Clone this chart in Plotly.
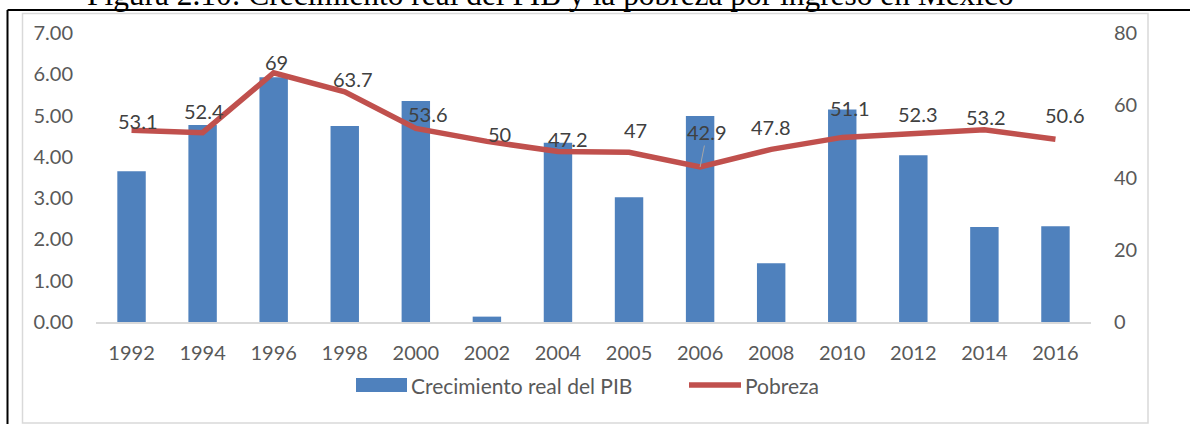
import plotly.graph_objects as go

# ---- data ----
years = ["1992", "1994", "1996", "1998", "2000", "2002", "2004", "2005",
         "2006", "2008", "2010", "2012", "2014", "2016"]
pib = [3.65, 4.77, 5.93, 4.75, 5.35, 0.13, 4.34, 3.02, 4.99, 1.42, 5.15, 4.04, 2.30, 2.32]
pobreza = [53.1, 52.4, 69, 63.7, 53.6, 50, 47.2, 47, 42.9, 47.8, 51.1, 52.3, 53.2, 50.6]
pobreza_labels = ["53.1", "52.4", "69", "63.7", "53.6", "50", "47.2", "47",
                  "42.9", "47.8", "51.1", "52.3", "53.2", "50.6"]
left_ticks = [0, 1, 2, 3, 4, 5, 6, 7]
right_ticks = [0, 20, 40, 60, 80]

title_text = "Figura 2.10: Crecimiento real del PIB y la pobreza por ingreso en México"
legend_bar = "Crecimiento real del PIB"
legend_line = "Pobreza"

# label placement offsets (pixels) - styling only
label_dx = [6.5, 1, 3, 8, 12.6, 13, 10, 6, 7, 0, 7.5, 5, 2, 10]
label_dy = [-9, -21.6, -10.4, -12.5, -14.3, -7, -12, -22, -35, -22, -29, -19, -12.4, -24]
leader = [False] * 8 + [True] + [False] * 5

BLUE = "#4F81BD"
RED = "#C0504D"
TICK = "#595959"
LABEL = "#404040"
FONT = "Lato"

W, H = 1190, 424
ML, MR, MT, MB = 96, 99, 33, 102
PW, PH = W - ML - MR, H - MT - MB


def px(x):
    return (x - ML) / PW


def py(y):
    return (H - MB - y) / PH


fig = go.Figure()
fig.add_trace(go.Bar(x=years, y=pib, name=legend_bar, marker_color=BLUE,
                     marker_line_width=0, yaxis="y", showlegend=False))
fig.add_trace(go.Scatter(x=years, y=pobreza, name=legend_line, mode="lines",
                         line=dict(color=RED, width=5.5), yaxis="y2",
                         showlegend=False))

annotations = []
for i, (v, t, dx, dy, ld) in enumerate(zip(pobreza, pobreza_labels, label_dx, label_dy, leader)):
    annotations.append(dict(
        x=i, y=v, xref="x", yref="y2", text=t, showarrow=True,
        ax=dx, ay=dy, axref="pixel", ayref="pixel",
        arrowhead=0, arrowwidth=1, standoff=0, startstandoff=0,
        arrowcolor="#A6A6A6" if ld else "rgba(0,0,0,0)",
        font=dict(family=FONT, size=20, color=LABEL),
        xanchor="center", yanchor="middle",
    ))

# title (partly cut at the top, as in the source page)
annotations.append(dict(
    text=title_text, xref="paper", yref="paper",
    x=px(550), y=py(14.5), xanchor="center", yanchor="bottom",
    showarrow=False, font=dict(family="Liberation Serif, Times New Roman, serif",
                               size=31.4, color="black")))

# custom legend text
annotations.append(dict(text=legend_bar, xref="paper", yref="paper",
                        x=px(409), y=py(385), xanchor="left", yanchor="middle",
                        showarrow=False, font=dict(family=FONT, size=21, color=TICK)))
annotations.append(dict(text=legend_line, xref="paper", yref="paper",
                        x=px(743), y=py(385), xanchor="left", yanchor="middle",
                        showarrow=False, font=dict(family=FONT, size=21, color=TICK)))

shapes = [
    # chart area border (light gray)
    dict(type="rect", xref="paper", yref="paper",
         x0=px(22.5), x1=px(1148), y0=py(423), y1=py(13.5),
         line=dict(color="#D9D9D9", width=1.5), fillcolor="rgba(0,0,0,0)", layer="below"),
    # page frame (black)
    dict(type="line", xref="paper", yref="paper",
         x0=px(7.5), x1=px(1195), y0=py(10), y1=py(10),
         line=dict(color="black", width=2)),
    dict(type="line", xref="paper", yref="paper",
         x0=px(7.5), x1=px(7.5), y0=py(10), y1=py(430),
         line=dict(color="black", width=2)),
    # legend swatches
    dict(type="rect", xref="paper", yref="paper",
         x0=px(356), x1=px(407), y0=py(392), y1=py(378),
         line=dict(width=0), fillcolor=BLUE),
    dict(type="line", xref="paper", yref="paper",
         x0=px(689), x1=px(741), y0=py(385), y1=py(385),
         line=dict(color=RED, width=5.5)),
]

fig.update_layout(
    width=W, height=H,
    margin=dict(l=ML, r=MR, t=MT, b=MB, pad=0),
    paper_bgcolor="white", plot_bgcolor="white",
    bargap=0.6,
    showlegend=False,
    font=dict(family=FONT, size=20, color=TICK),
    xaxis=dict(type="category", categoryorder="array", categoryarray=years,
               range=[-0.5, len(years) - 0.5],
               showgrid=False, showline=True, linecolor="#D9D9D9", linewidth=1.5,
               ticks="", ticklabelstandoff=12,
               tickfont=dict(family=FONT, size=20, color=TICK),
               zeroline=False, fixedrange=True),
    yaxis=dict(range=[0, 7], tickvals=left_ticks, tickformat=".2f",
               showgrid=False, showline=False, zeroline=False, ticks="",
               ticklabelstandoff=22,
               tickfont=dict(family=FONT, size=20, color=TICK)),
    yaxis2=dict(range=[0, 80], tickvals=right_ticks, overlaying="y", side="right",
                showgrid=False, showline=False, zeroline=False, ticks="",
                ticklabelstandoff=22,
                tickfont=dict(family=FONT, size=20, color=TICK)),
    annotations=annotations,
    shapes=shapes,
)

fig.write_html("out.html", config={"displayModeBar": False},
               post_script="document.body.style.margin='0';document.body.style.padding='0';")
